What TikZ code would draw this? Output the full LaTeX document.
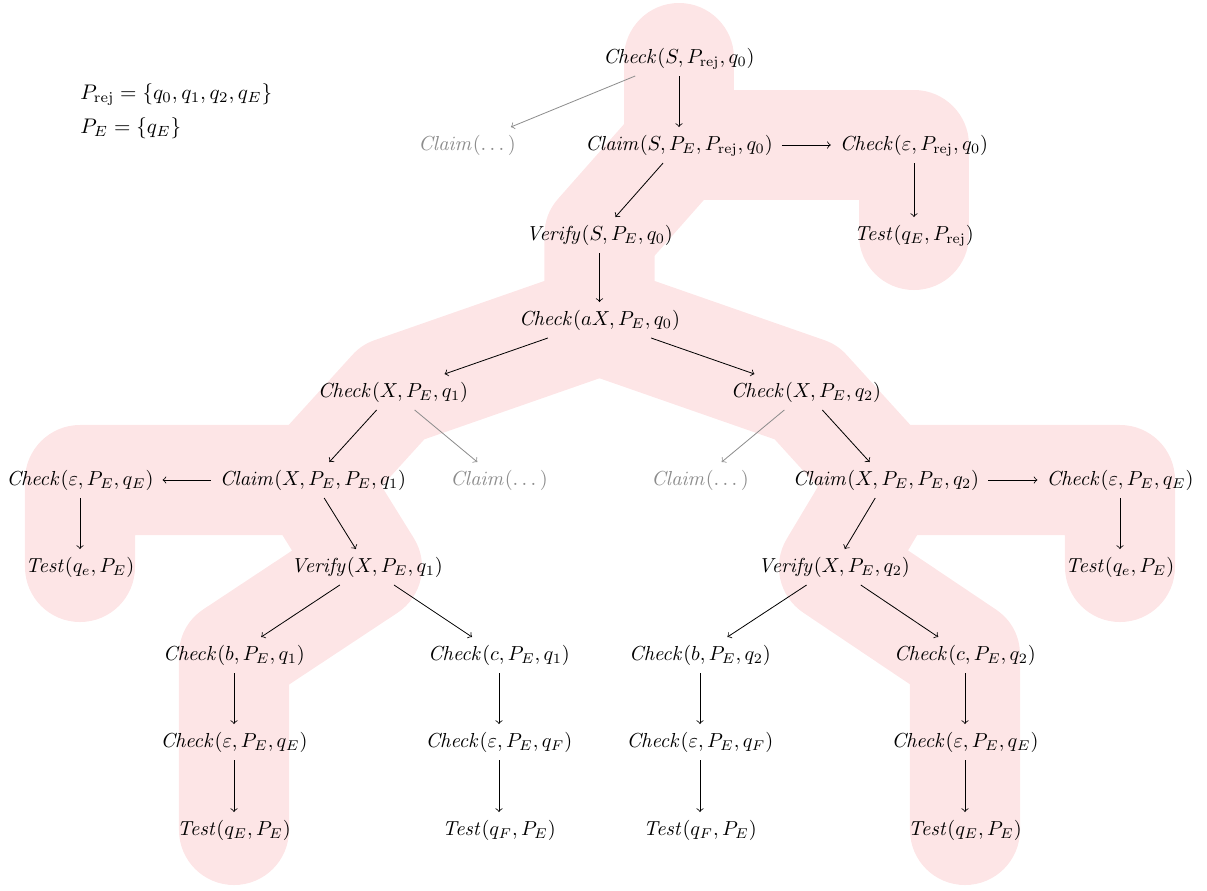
\documentclass[tikz,border=0pt]{standalone}
\usepackage{amsmath}
\usepackage{graphicx}
\definecolor{hlpink}{RGB}{253,229,230}
\definecolor{dimgray}{RGB}{140,140,140}
\begin{document}
\begin{tikzpicture}[x=0.4926pt, y=-0.4926pt,
  st/.style={inner xsep=1ex, inner ysep=0.85ex, text height=7.5pt, text depth=2.5pt},
  dim/.style={st, text=dimgray},
  setlabel/.style={anchor=base west, inner sep=0},
  ar/.style={->, line width=0.4pt},
  dimar/.style={->, line width=0.4pt, draw=dimgray},
  hl/.style={draw=hlpink, line width=54.2pt, line cap=round, line join=round}]
\useasboundingbox (0,0) rectangle (1207,890);

% highlighted run
\draw[hl] (679,58) -- (679,145) -- (914,145) -- (914,235);
\draw[hl] (679,145) -- (599.5,235) -- (599.5,320);
\draw[hl] (599.5,320) -- (393,392) -- (313,480) -- (80,480) -- (80,567);
\draw[hl] (313,480) -- (367,567) -- (234,655) -- (234,742) -- (234,830);
\draw[hl] (599.5,320) -- (806,392) -- (886,480) -- (1120,480) -- (1120,567);
\draw[hl] (886,480) -- (834,567) -- (965,655) -- (965,742) -- (965,830);

% sets
\node[setlabel] (prej) at (80,99) {\scalebox{1.04}{$P_{\mathrm{rej}} = \{q_0, q_1, q_2, q_E\}$}};
\node[setlabel] (pe) at (80,133) {\scalebox{1.04}{$P_E = \{q_E\}$}};

% nodes
\node[st] (c0) at (679,58) {$\mathit{Check}(S, P_{\mathrm{rej}}, q_0)$};
\node[dim] (cl0) at (467,145) {$\mathit{Claim}(\dots)$};
\node[st] (cl1) at (679,145) {$\mathit{Claim}(S, P_E, P_{\mathrm{rej}}, q_0)$};
\node[st] (ce0) at (914,145) {$\mathit{Check}(\varepsilon, P_{\mathrm{rej}}, q_0)$};
\node[st] (v0) at (599.5,235) {$\mathit{Verify}(S, P_E, q_0)$};
\node[st] (t0) at (914,235) {$\mathit{Test}(q_E, P_{\mathrm{rej}})$};
\node[st] (ca) at (599.5,320) {$\mathit{Check}(aX, P_E, q_0)$};
\node[st] (cx1) at (393,392) {$\mathit{Check}(X, P_E, q_1)$};
\node[st] (cx2) at (806,392) {$\mathit{Check}(X, P_E, q_2)$};
\node[st] (ceL) at (80,480) {$\mathit{Check}(\varepsilon, P_E, q_E)$};
\node[st] (clx1) at (313,480) {$\mathit{Claim}(X, P_E, P_E, q_1)$};
\node[dim] (cld1) at (499,480) {$\mathit{Claim}(\dots)$};
\node[dim] (cld2) at (700,480) {$\mathit{Claim}(\dots)$};
\node[st] (clx2) at (886,480) {$\mathit{Claim}(X, P_E, P_E, q_2)$};
\node[st] (ceR) at (1120,480) {$\mathit{Check}(\varepsilon, P_E, q_E)$};
\node[st] (tL) at (80,567) {$\mathit{Test}(q_e, P_E)$};
\node[st] (vx1) at (367,567) {$\mathit{Verify}(X, P_E, q_1)$};
\node[st] (vx2) at (834,567) {$\mathit{Verify}(X, P_E, q_2)$};
\node[st] (tR) at (1120,567) {$\mathit{Test}(q_e, P_E)$};
\node[st] (cb1) at (234,655) {$\mathit{Check}(b, P_E, q_1)$};
\node[st] (cc1) at (499,655) {$\mathit{Check}(c, P_E, q_1)$};
\node[st] (cb2) at (700,655) {$\mathit{Check}(b, P_E, q_2)$};
\node[st] (cc2) at (965,655) {$\mathit{Check}(c, P_E, q_2)$};
\node[st] (e1) at (234,742) {$\mathit{Check}(\varepsilon, P_E, q_E)$};
\node[st] (e2) at (499,742) {$\mathit{Check}(\varepsilon, P_E, q_F)$};
\node[st] (e3) at (700,742) {$\mathit{Check}(\varepsilon, P_E, q_F)$};
\node[st] (e4) at (965,742) {$\mathit{Check}(\varepsilon, P_E, q_E)$};
\node[st] (t1) at (234,830) {$\mathit{Test}(q_E, P_E)$};
\node[st] (t2) at (499,830) {$\mathit{Test}(q_F, P_E)$};
\node[st] (t3) at (700,830) {$\mathit{Test}(q_F, P_E)$};
\node[st] (t4) at (965,830) {$\mathit{Test}(q_E, P_E)$};

% arrows
\draw[dimar] (c0) -- (cl0);
\draw[ar] (c0) -- (cl1);
\draw[ar] (cl1) -- (ce0);
\draw[ar] (ce0) -- (t0);
\draw[ar] (cl1) -- (v0);
\draw[ar] (v0) -- (ca);
\draw[ar] (ca) -- (cx1);
\draw[ar] (ca) -- (cx2);
\draw[ar] (cx1) -- (clx1);
\draw[dimar] (cx1) -- (cld1);
\draw[dimar] (cx2) -- (cld2);
\draw[ar] (cx2) -- (clx2);
\draw[ar] (clx1) -- (ceL);
\draw[ar] (ceL) -- (tL);
\draw[ar] (clx2) -- (ceR);
\draw[ar] (ceR) -- (tR);
\draw[ar] (clx1) -- (vx1);
\draw[ar] (clx2) -- (vx2);
\draw[ar] (vx1) -- (cb1);
\draw[ar] (vx1) -- (cc1);
\draw[ar] (vx2) -- (cb2);
\draw[ar] (vx2) -- (cc2);
\draw[ar] (cb1) -- (e1);
\draw[ar] (cc1) -- (e2);
\draw[ar] (cb2) -- (e3);
\draw[ar] (cc2) -- (e4);
\draw[ar] (e1) -- (t1);
\draw[ar] (e2) -- (t2);
\draw[ar] (e3) -- (t3);
\draw[ar] (e4) -- (t4);
\end{tikzpicture}
\end{document}
